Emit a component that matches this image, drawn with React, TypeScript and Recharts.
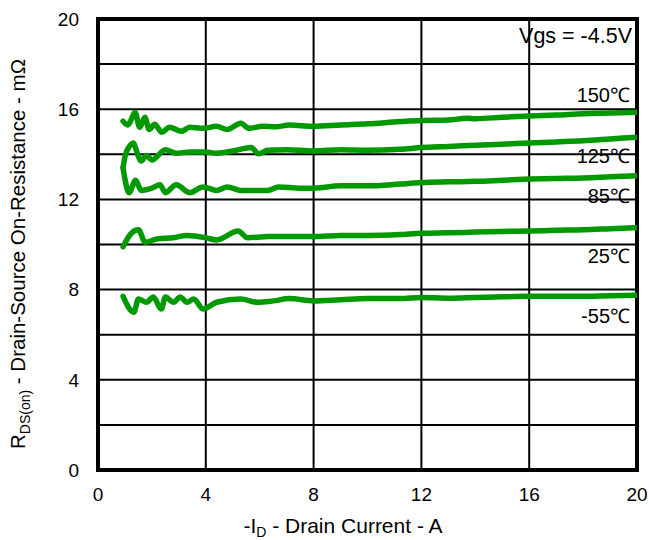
import React from 'react'
import { LineChart, Line, XAxis, YAxis, CartesianGrid, ReferenceArea } from 'recharts'

const FONT = '"Liberation Sans", Arial, sans-serif'
const GREEN = '#009900'

const xTicks = [0, 4, 8, 12, 16, 20]
const yTicks = [0, 2, 4, 6, 8, 10, 12, 14, 16, 18, 20]

// -ID (A) / RDS(on) (mOhm)
const id150 = [0.93, 1.1, 1.2, 1.37, 1.55, 1.74, 1.9, 2.1, 2.37, 2.65, 3.1, 3.4, 3.9, 4.4, 4.8, 5.3, 5.6, 6.1, 6.6, 7.1, 8, 9, 10, 11.2, 12, 13, 13.7, 14, 15, 16, 17, 18, 19, 20]
const r150 = [15.47, 15.3, 15.45, 15.87, 15.2, 15.64, 15.1, 15.33, 14.98, 15.2, 15.02, 15.2, 15.15, 15.24, 15.1, 15.38, 15.15, 15.24, 15.22, 15.3, 15.24, 15.3, 15.35, 15.45, 15.5, 15.52, 15.6, 15.58, 15.64, 15.7, 15.74, 15.8, 15.83, 15.87]

const id125 = [0.93, 1.0, 1.2, 1.3, 1.5, 1.6, 1.8, 2.0, 2.5, 2.9, 3.4, 4.0, 4.4, 5.0, 5.4, 5.7, 5.95, 6.3, 7, 8, 9, 10, 11.2, 12, 13, 14, 15, 16, 17, 18, 19, 20]
const r125 = [13.4, 13.9, 14.4, 14.5, 13.9, 13.7, 13.95, 13.75, 14.2, 14.05, 14.1, 14.1, 14.05, 14.15, 14.25, 14.3, 14.02, 14.18, 14.2, 14.15, 14.2, 14.18, 14.22, 14.3, 14.35, 14.4, 14.45, 14.5, 14.55, 14.6, 14.68, 14.76]

const id85 = [0.93, 1.0, 1.15, 1.4, 1.6, 2.0, 2.3, 2.5, 2.9, 3.4, 3.9, 4.4, 4.8, 5.3, 6.3, 6.7, 7.5, 8, 9, 10, 11.2, 12, 13, 14, 15, 16, 17, 18, 19, 20]
const r85 = [13.4, 12.9, 12.3, 12.85, 12.4, 12.5, 12.65, 12.3, 12.65, 12.3, 12.55, 12.4, 12.55, 12.4, 12.4, 12.55, 12.5, 12.5, 12.6, 12.6, 12.68, 12.75, 12.78, 12.8, 12.85, 12.9, 12.93, 12.95, 13.0, 13.05]

const id25 = [0.93, 1.2, 1.5, 1.75, 2.2, 2.8, 3.3, 4.0, 4.4, 5.2, 5.55, 6.3, 7.1, 8, 9, 10, 11.2, 12, 13, 14, 15, 16, 17, 18, 19, 20]
const r25 = [9.9, 10.45, 10.65, 10.1, 10.25, 10.3, 10.4, 10.3, 10.2, 10.6, 10.3, 10.35, 10.35, 10.35, 10.4, 10.4, 10.44, 10.5, 10.52, 10.55, 10.58, 10.6, 10.63, 10.65, 10.7, 10.75]

const idm55 = [0.93, 1.33, 1.5, 1.8, 2.05, 2.35, 2.5, 2.8, 3.05, 3.3, 3.55, 3.9, 4.4, 5.3, 5.9, 6.5, 7.1, 8, 9, 10, 11.2, 12, 13, 14, 15, 16, 17, 18, 19, 20]
const rm55 = [7.7, 7.0, 7.58, 7.44, 7.67, 7.14, 7.67, 7.44, 7.67, 7.44, 7.58, 7.14, 7.44, 7.58, 7.44, 7.5, 7.6, 7.5, 7.55, 7.6, 7.6, 7.65, 7.62, 7.65, 7.68, 7.7, 7.7, 7.7, 7.73, 7.75]

const pairs = (xs: number[], ys: number[]) => xs.map((x, i) => ({ x, r: ys[i] }))

const series = [
  { name: '150', data: pairs(id150, r150) },
  { name: '125', data: pairs(id125, r125) },
  { name: '85', data: pairs(id85, r85) },
  { name: '25', data: pairs(id25, r25) },
  { name: '-55', data: pairs(idm55, rm55) },
]

const tempLabels = [
  { text: '150℃', y: 102 },
  { text: '125℃', y: 163 },
  { text: '85℃', y: 203 },
  { text: '25℃', y: 263 },
  { text: '-55℃', y: 323 },
]

const tickStyle = { fill: '#000', fontSize: 19, fontFamily: FONT }

export default function App() {
  return (
    <div style={{ position: 'absolute', left: 0, top: 0 }}>
      <LineChart width={649} height={540} margin={{ top: 19, right: 12, left: 38, bottom: 40 }}>
        <CartesianGrid stroke="#000" strokeWidth={2} />
        <XAxis
          type="number"
          dataKey="x"
          domain={[0, 20]}
          ticks={xTicks}
          allowDataOverflow
          axisLine={false}
          tickLine={false}
          tickSize={0}
          tickMargin={18}
          height={30}
          tick={tickStyle}
        />
        <YAxis
          type="number"
          domain={[0, 20]}
          ticks={yTicks}
          allowDataOverflow
          axisLine={false}
          tickLine={false}
          tickSize={0}
          tickMargin={19}
          width={60}
          tick={tickStyle}
          tickFormatter={(v: number) => (v % 4 === 0 ? String(v) : '')}
        />
        {series.map((s) => (
          <Line
            key={s.name}
            data={s.data}
            dataKey="r"
            type="monotone"
            stroke={GREEN}
            strokeWidth={5.5}
            strokeLinecap="round"
            strokeLinejoin="round"
            dot={false}
            isAnimationActive={false}
          />
        ))}
        <ReferenceArea x1={0} x2={20} y1={0} y2={20} fill="none" stroke="#000" strokeWidth={4} />
        <text x={632} y={43} textAnchor="end" fontSize={21.5} fontFamily={FONT} fill="#000">Vgs = -4.5V</text>
        {tempLabels.map((t) => (
          <text key={t.text} x={630} y={t.y} textAnchor="end" fontSize={20} fontFamily={FONT} fill="#000">{t.text}</text>
        ))}
        <text x={343} y={533} textAnchor="middle" fontSize={21} fontFamily={FONT} fill="#000">
          -I<tspan fontSize={14} dy={4}>D</tspan><tspan dy={-4}> - Drain Current - A</tspan>
        </text>
        <text transform="rotate(-90)" x={-254} y={25} textAnchor="middle" fontSize={20.5} fontFamily={FONT} fill="#000">
          R<tspan fontSize={14} dy={5}>DS(on)</tspan><tspan dy={-5}> - Drain-Source On-Resistance - mΩ</tspan>
        </text>
      </LineChart>
    </div>
  )
}
